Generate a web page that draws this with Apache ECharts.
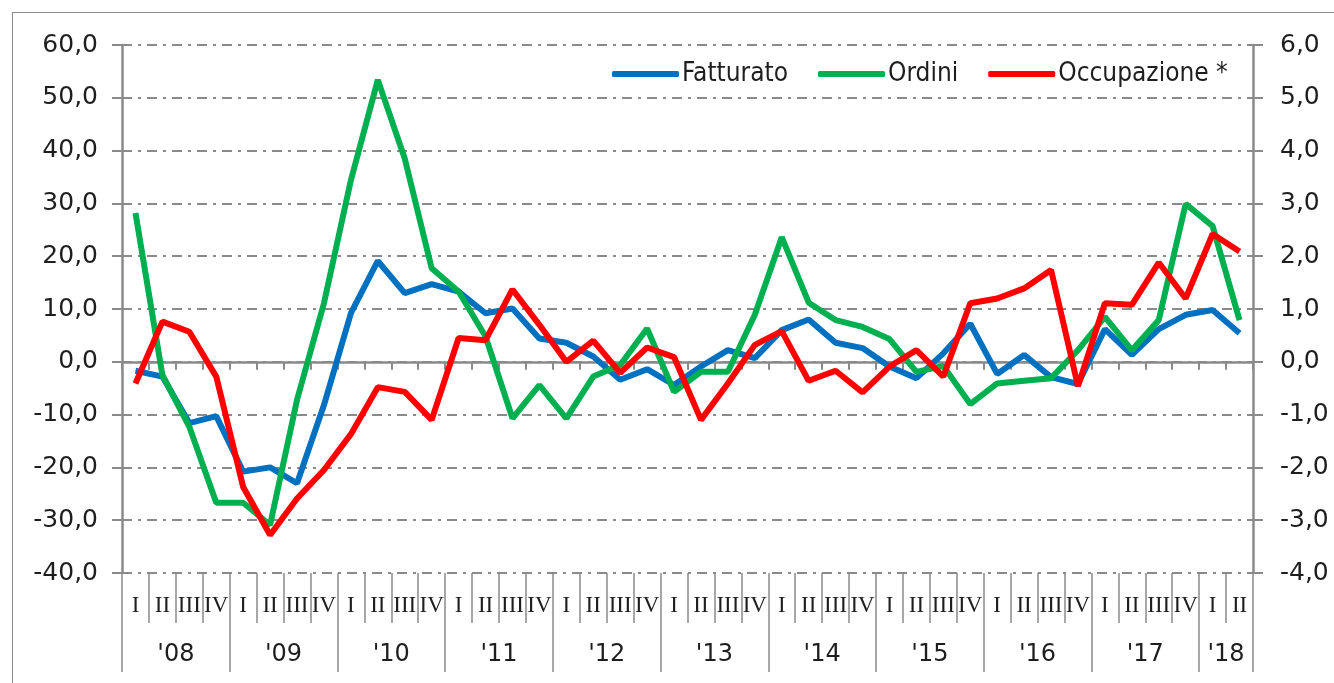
<!DOCTYPE html>
<html lang="it">
<head>
<meta charset="UTF-8">
<title>Fatturato, Ordini, Occupazione</title>
<script src="https://cdn.jsdelivr.net/npm/echarts@6/dist/echarts.min.js"></script>
<style>
  body { margin: 0; background: #fff; }
  #main { position: absolute; left: 0; top: 0; width: 1334px; height: 683px; }
  #frame { position: absolute; left: 12px; top: 12px; width: 1400px; height: 800px;
           border: 1px solid #8c8c8c; pointer-events: none; }
</style>
</head>
<body>
<div id="main"></div>
<div id="frame"></div>
<script type="text/javascript">
// trimestri 2008 I - 2018 II
var years = ["'08", "'09", "'10", "'11", "'12", "'13", "'14", "'15", "'16", "'17", "'18"];
var quarterNames = ['I', 'II', 'III', 'IV'];

var fatturato = [-1.7, -2.8, -11.6, -10.3, -20.8, -20.0, -23.0, -8.2, 9.2, 19.1, 13.0, 14.7, 13.3, 9.2,
  10.1, 4.4, 3.6, 1.0, -3.4, -1.4, -4.4, -0.9, 2.2, 0.7, 6.0, 8.0, 3.6, 2.6, -0.9, -3.1, 1.6, 7.2,
  -2.3, 1.3, -2.9, -4.2, 6.2, 1.3, 6.2, 8.9, 9.8, 5.4];
var ordini = [28.2, -2.5, -12.3, -26.7, -26.7, -30.9, -7.2, 11.1, 34.4, 53.4, 38.5, 17.7, 13.3, 4.8,
  -10.7, -4.4, -10.7, -2.8, -0.6, 6.3, -5.7, -1.9, -1.9, 8.9, 23.6, 11.2, 7.9, 6.6, 4.3, -1.9, -0.8,
  -8.0, -4.1, -3.6, -3.1, 2.2, 8.5, 2.2, 7.9, 29.9, 25.7, 7.9];
// scala destra
var occupazione = [-0.41, 0.76, 0.57, -0.28, -2.37, -3.28, -2.59, -2.05, -1.37, -0.48, -0.57, -1.10,
  0.45, 0.41, 1.37, 0.70, 0.0, 0.40, -0.21, 0.27, 0.09, -1.10, -0.41, 0.32, 0.58, -0.36, -0.17, -0.58,
  -0.09, 0.22, -0.28, 1.11, 1.20, 1.39, 1.74, -0.46, 1.11, 1.08, 1.88, 1.20, 2.42, 2.09];

var nQ = fatturato.length;
// una posizione per ogni confine tra trimestri (0..nQ), per separatori ed etichette
var slots = [];
for (var j = 0; j <= nQ; j++) slots.push(String(j));
var quarterIdx = [];
for (var i = 0; i < nQ; i++) quarterIdx.push(String(i));

function yearLabel(idx) {
  if (idx % 4 === 2 && idx < nQ) return years[(idx - 2) / 4];
  if (idx === nQ - 1 && nQ % 4 === 2) return years[years.length - 1];
  return '';
}
function fmt(v) { return v.toFixed(1).replace('.', ','); }

var gray = '#8a8a8a';
var txt = '#1e1e1e';
var font = 'DejaVu Sans';

var chartDom = document.getElementById('main');
var myChart = echarts.init(chartDom);
var option = {
  animation: false,
  grid: { left: 122, right: 81, top: 45, bottom: 110 },
  legend: {
    left: 607, top: 56,
    itemWidth: 67, itemHeight: 6, itemGap: 30,
    icon: 'roundRect',
    textStyle: { fontFamily: 'DejaVu Sans Condensed, DejaVu Sans', fontSize: 26, color: txt, padding: [0, 0, 0, -2] },
    data: ['Fatturato', 'Ordini', 'Occupazione *']
  },
  xAxis: [
    {
      type: 'category', data: quarterIdx, boundaryGap: true,
      axisLine: { onZero: true, lineStyle: { color: gray, width: 2.5 } },
      axisTick: { show: true, interval: 0, length: 8, lineStyle: { color: gray, width: 2 } },
      axisLabel: { show: false }, splitLine: { show: false }
    },
    {
      type: 'category', data: quarterIdx, boundaryGap: true, position: 'bottom',
      axisLine: { show: false, onZero: false },
      axisTick: { show: true, interval: 0, length: 50, lineStyle: { color: gray, width: 1.5 } },
      axisLabel: {
        interval: 0, margin: 21, fontFamily: 'Liberation Serif', fontSize: 23, color: txt,
        formatter: function (v) { return quarterNames[Number(v) % 4]; }
      },
      splitLine: { show: false }
    },
    {
      type: 'category', data: slots, boundaryGap: false, position: 'bottom',
      axisLine: { show: false, onZero: false },
      axisTick: {
        show: true,
        interval: function (idx) { return idx % 4 === 0 || idx === nQ; },
        length: 99, lineStyle: { color: gray, width: 1.5 }
      },
      axisLabel: {
        interval: function (idx) { return yearLabel(idx) !== ''; },
        formatter: function (v) { return yearLabel(Number(v)); },
        margin: 70, fontFamily: font, fontSize: 24, color: txt
      },
      splitLine: { show: false }
    }
  ],
  yAxis: [
    {
      type: 'value', min: -40, max: 60, interval: 10,
      axisLine: { show: true, lineStyle: { color: gray, width: 2.5 } },
      axisTick: { show: true, length: 10, lineStyle: { color: gray, width: 2 } },
      axisLabel: { formatter: fmt, margin: 24, fontFamily: font, fontSize: 25, color: txt },
      splitLine: { show: true, lineStyle: { color: gray, width: 2, type: [10, 6, 3, 6] } }
    },
    {
      type: 'value', min: -4, max: 6, interval: 1, position: 'right',
      axisLine: { show: true, lineStyle: { color: gray, width: 2.5 } },
      axisTick: { show: true, length: 10, lineStyle: { color: gray, width: 2 } },
      axisLabel: { formatter: fmt, margin: 27, fontFamily: font, fontSize: 25, color: txt },
      splitLine: { show: false }
    }
  ],
  series: [
    { name: 'Fatturato', type: 'line', data: fatturato, xAxisIndex: 0, yAxisIndex: 0,
      showSymbol: false, symbol: 'none', color: '#0070C0', lineStyle: { width: 6, color: '#0070C0' } },
    { name: 'Ordini', type: 'line', data: ordini, xAxisIndex: 0, yAxisIndex: 0,
      showSymbol: false, symbol: 'none', color: '#00B050', lineStyle: { width: 6, color: '#00B050' } },
    { name: 'Occupazione *', type: 'line', data: occupazione, xAxisIndex: 0, yAxisIndex: 1,
      showSymbol: false, symbol: 'none', color: '#FF0000', lineStyle: { width: 6, color: '#FF0000' } }
  ]
};
myChart.setOption(option);
</script>
</body>
</html>
